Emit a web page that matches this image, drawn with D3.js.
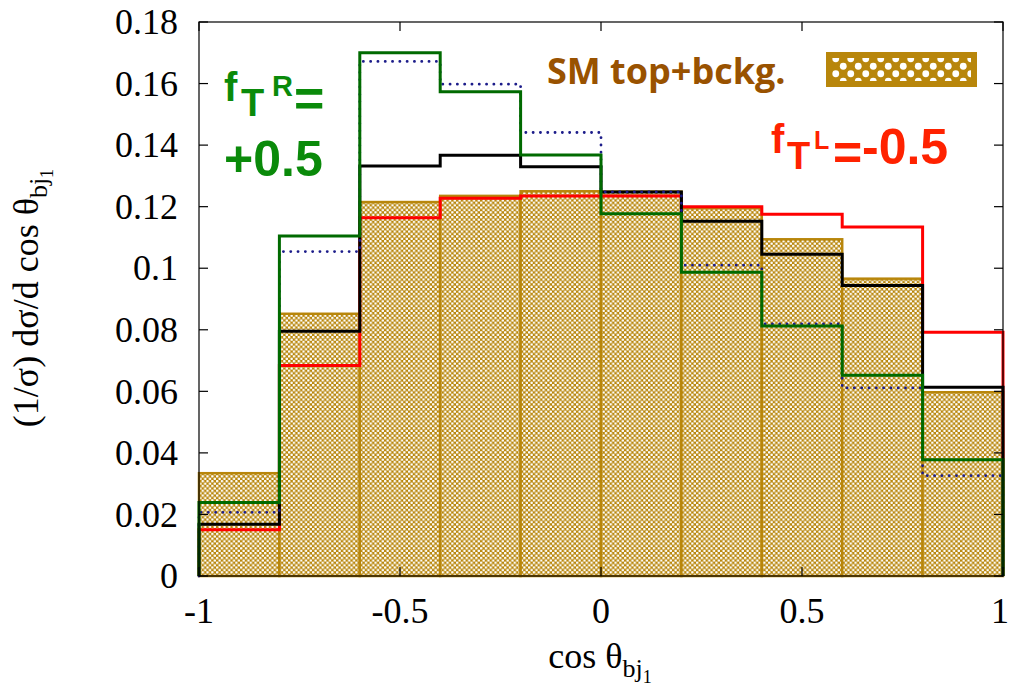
<!DOCTYPE html>
<html><head><meta charset="utf-8">
<script src="https://cdn.jsdelivr.net/npm/d3@7"></script>
<style>body{margin:0;background:#fff}svg{display:block}</style>
</head><body>
<svg id="c" width="1010" height="689"></svg>
<script>
// ---- data ----
const binEdges = [-1,-0.8,-0.6,-0.4,-0.2,0,0.2,0.4,0.6,0.8,1];
const smBkg   = [0.0334,0.0852,0.1215,0.1235,0.1250,0.1249,0.1195,0.1094,0.0966,0.0597];
const black   = [0.0168,0.0795,0.1332,0.1367,0.1330,0.1248,0.1153,0.1045,0.0944,0.0613];
const redL    = [0.0150,0.0684,0.1164,0.1227,0.1235,0.1235,0.1200,0.1175,0.1134,0.0792];
const blueDot = [0.0207,0.1054,0.1672,0.1598,0.1441,0.1248,0.1010,0.0819,0.0611,0.0326];
const greenR  = [0.0239,0.1105,0.1700,0.1573,0.1368,0.1177,0.0987,0.0812,0.0652,0.0378];
const xTicks = [-1,-0.5,0,0.5,1];
const xTickLabels = ["-1","-0.5","0","0.5","1"];
const yTicks = [0,0.02,0.04,0.06,0.08,0.1,0.12,0.14,0.16,0.18];
const yTickLabels = ["0","0.02","0.04","0.06","0.08","0.1","0.12","0.14","0.16","0.18"];

const svg = d3.select("#c");
const L=199, R=1003, T=22, B=576;
const x = d3.scaleLinear().domain([-1,1]).range([L,R]);
const y = d3.scaleLinear().domain([0,0.18]).range([B,T]);
const brown = "#b8860b";

const defs = svg.append("defs");
const pat = defs.append("pattern").attr("id","hatch").attr("patternUnits","userSpaceOnUse")
  .attr("width",4.8).attr("height",4.8);
pat.append("rect").attr("width",4.8).attr("height",4.8).attr("fill",brown);
pat.append("circle").attr("cx",1.2).attr("cy",1.2).attr("r",1.3).attr("fill","#fff");
pat.append("circle").attr("cx",3.6).attr("cy",3.6).attr("r",1.3).attr("fill","#fff");
const pat2 = defs.append("pattern").attr("id","hatchL").attr("patternUnits","userSpaceOnUse")
  .attr("width",15).attr("height",15).attr("x",832).attr("y",55);
pat2.append("rect").attr("width",15).attr("height",15).attr("fill",brown);
pat2.append("circle").attr("cx",3.75).attr("cy",3.75).attr("r",3.4).attr("fill","#fff");
pat2.append("circle").attr("cx",11.25).attr("cy",11.25).attr("r",3.4).attr("fill","#fff");

// hatched SM bars
const bins = smBkg.map((v,i)=>({x0:binEdges[i],x1:binEdges[i+1],v}));
svg.append("g").selectAll("rect").data(bins).join("rect")
  .attr("x",d=>x(d.x0)).attr("width",d=>x(d.x1)-x(d.x0))
  .attr("y",d=>y(d.v)).attr("height",d=>y(0)-y(d.v))
  .attr("fill","url(#hatch)").attr("stroke",brown).attr("stroke-width",2.5);

// step lines
function stepPts(vals){
  const pts=[[-1,0]];
  vals.forEach((v,i)=>pts.push([binEdges[i],v]));
  pts.push([1,vals[vals.length-1]]); pts.push([1,0]);
  return pts;
}
const line = d3.line().x(d=>x(d[0])).y(d=>y(d[1])).curve(d3.curveStepAfter);
function drawStep(vals,color,dash){
  const p = svg.append("path").attr("d",line(stepPts(vals))).attr("fill","none")
    .attr("stroke",color).attr("stroke-width",3).attr("stroke-linejoin","miter");
  if(dash){p.attr("stroke-dasharray",dash).attr("stroke-linecap","round").attr("stroke-width",2.8);}
}
drawStep(redL,"#ff0000");
drawStep(black,"#000000");
drawStep(blueDot,"#1c1c8a","0.1,7.2");
drawStep(greenR,"#006a00");

// frame
svg.append("rect").attr("x",L).attr("y",T).attr("width",R-L).attr("height",B-T)
  .attr("fill","none").attr("stroke","#000").attr("stroke-width",1.2);

// ticks
const tg = svg.append("g").attr("stroke","#000").attr("stroke-width",1.2);
yTicks.forEach(t=>{
  tg.append("line").attr("x1",L).attr("x2",L+9).attr("y1",y(t)).attr("y2",y(t));
  tg.append("line").attr("x1",R).attr("x2",R-9).attr("y1",y(t)).attr("y2",y(t));
});
xTicks.forEach(t=>{
  tg.append("line").attr("x1",x(t)).attr("x2",x(t)).attr("y1",B).attr("y2",B-9);
  tg.append("line").attr("x1",x(t)).attr("x2",x(t)).attr("y1",T).attr("y2",T+9);
});

const serif = "'Liberation Serif','Times New Roman',serif";
svg.append("g").selectAll("text").data(yTicks).join("text")
  .attr("x",178).attr("y",d=>y(d)).attr("dy","0.34em").attr("text-anchor","end")
  .attr("font-family",serif).attr("font-size",36).text((d,i)=>yTickLabels[i]);
svg.append("g").selectAll("text").data(xTicks).join("text")
  .attr("x",d=>Math.min(x(d),1000)).attr("y",623).attr("text-anchor","middle")
  .attr("font-family",serif).attr("font-size",36).text((d,i)=>xTickLabels[i]);

// axis labels
const xl = svg.append("text").attr("x",600).attr("y",668).attr("text-anchor","middle")
  .attr("font-family",serif).attr("font-size",36);
xl.append("tspan").text("cos θ");
xl.append("tspan").attr("font-size",26).attr("dy",9).text("bj");
xl.append("tspan").attr("font-size",18).attr("dy",6).text("1");

const yl = svg.append("text").attr("transform","translate(38,298) rotate(-90)")
  .attr("text-anchor","middle").attr("font-family",serif).attr("font-size",36);
yl.append("tspan").text("(1/σ) dσ/d cos θ");
yl.append("tspan").attr("font-size",26).attr("dy",9).text("bj");
yl.append("tspan").attr("font-size",18).attr("dy",6).text("1");

// legend
svg.append("text").attr("x",547).attr("y",84).attr("font-family","'Open Sans',sans-serif")
  .attr("font-weight",700).attr("font-size",36).attr("fill","#995200").text("SM top+bckg.");
svg.append("rect").attr("x",826).attr("y",52).attr("width",151).attr("height",35).attr("fill",brown);
svg.append("rect").attr("x",832).attr("y",58).attr("width",139).attr("height",23).attr("fill","url(#hatchL)");

// annotations
const sans = "'Liberation Sans',Arial,sans-serif";
const g1 = svg.append("g").attr("font-family",sans).attr("font-weight",700).attr("fill","#0a8a0a");
g1.append("text").attr("x",224).attr("y",101).attr("font-size",40).text("f");
g1.append("text").attr("x",241).attr("y",116).attr("font-size",38).text("T");
g1.append("text").attr("x",272).attr("y",96).attr("font-size",29).text("R");
g1.append("text").attr("x",294).attr("y",116).attr("font-size",52).text("=");
g1.append("text").attr("x",224).attr("y",176).attr("font-size",50).text("+0.5");

const g2 = svg.append("g").attr("font-family",sans).attr("font-weight",700).attr("fill","#ff2200");
g2.append("text").attr("x",771).attr("y",153).attr("font-size",40).text("f");
g2.append("text").attr("x",787).attr("y",169).attr("font-size",38).text("T");
g2.append("text").attr("x",814).attr("y",149).attr("font-size",25).text("L");
g2.append("text").attr("x",833).attr("y",170).attr("font-size",50).text("=");
g2.append("text").attr("x",862).attr("y",164).attr("font-size",50).text("-0.5");
</script>
</body></html>
